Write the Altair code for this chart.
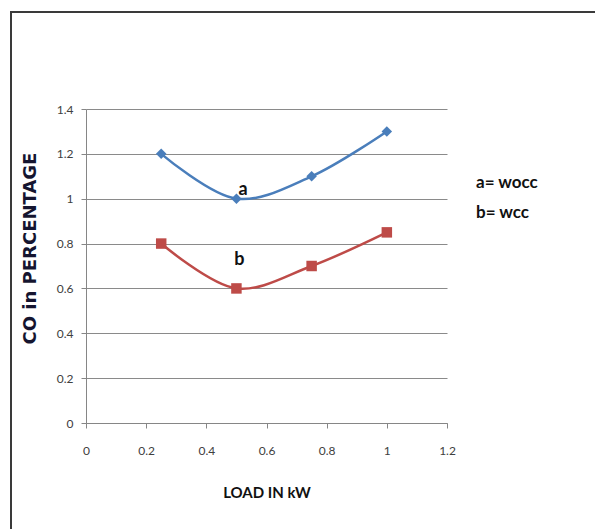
import altair as alt
import pandas as pd

# ---- data ----
load_kw = [0.25, 0.5, 0.75, 1.0]
co_wocc = [1.2, 1.0, 1.1, 1.3]     # series a
co_wcc = [0.8, 0.6, 0.7, 0.85]     # series b
series_keys = ["a", "b"]
series_names = ["a= wocc", "b= wcc"]
x_ticks = [0, 0.2, 0.4, 0.6, 0.8, 1.0, 1.2]
y_ticks = [0, 0.2, 0.4, 0.6, 0.8, 1.0, 1.2, 1.4]
label_pos_x = [0.522, 0.51]
label_pos_y = [1.04, 0.725]

BLUE = "#4A7EBB"
RED = "#BE4B48"

df = pd.DataFrame({
    "load": load_kw * 2,
    "co": co_wocc + co_wcc,
    "series": ["a"] * len(load_kw) + ["b"] * len(load_kw),
})
lab = pd.DataFrame({"x": label_pos_x, "y": label_pos_y, "t": series_keys})
one = pd.DataFrame({"k": [0]})

xs = alt.Scale(domain=[0, 1.2], nice=False, zero=False)
ys = alt.Scale(domain=[0, 1.4], nice=False)
color = alt.Color("series:N", scale=alt.Scale(domain=series_keys, range=[BLUE, RED]), legend=None)
shape = alt.Shape("series:N", scale=alt.Scale(domain=series_keys, range=["diamond", "square"]), legend=None)

x_enc = alt.X("load:Q", scale=xs, axis=alt.Axis(
    values=x_ticks, format="~g", grid=False, title="LOAD IN kW",
    titleFont="Lato", titleFontSize=15, titleFontWeight="bold", titleColor="#111111",
    titleY=69, titleBaseline="middle",
    labelFont="Lato", labelFontSize=12, labelColor="#404040", labelPadding=17,
    tickSize=5, tickColor="#868686", domainColor="#868686", labelFlush=False))
y_enc = alt.Y("co:Q", scale=ys, axis=alt.Axis(
    values=y_ticks, format="~g", grid=True, gridColor="#8a8a8a", title="CO in PERCENTAGE",
    titleFont="DejaVu Sans", titleFontSize=18, titleFontWeight="bold", titleColor="#151530",
    titleX=-56, titleY=139, titleBaseline="middle", titleAngle=270,
    labelFont="Lato", labelFontSize=12, labelColor="#404040", labelPadding=8,
    tickSize=5, tickColor="#868686", domainColor="#868686"))

base = alt.Chart(df)
lines = base.mark_line(interpolate="catmull-rom", strokeWidth=2.5).encode(
    x=x_enc, y=y_enc, color=color, detail="series:N")
points = base.mark_point(filled=True, opacity=1, size=110).encode(
    x=alt.X("load:Q", scale=xs), y=alt.Y("co:Q", scale=ys), color=color, shape=shape)

labels = alt.Chart(lab).mark_text(font="Lato", fontSize=18, fontWeight="bold",
                                  color="#111111", baseline="middle").encode(
    x=alt.X("x:Q", scale=xs), y=alt.Y("y:Q", scale=ys), text="t:N")

legend_a = alt.Chart(one).mark_text(text=series_names[0], font="Lato", fontSize=17, fontWeight="bold",
                                    color="#111111", align="left", baseline="middle").encode(
    x=alt.value(390), y=alt.value(74))
legend_b = alt.Chart(one).mark_text(text=series_names[1], font="Lato", fontSize=17, fontWeight="bold",
                                    color="#111111", align="left", baseline="middle").encode(
    x=alt.value(390), y=alt.value(104))

frame_left = alt.Chart(one).mark_rule(color="#3a3a3a", strokeWidth=2).encode(
    x=alt.value(-75), y=alt.value(-97), y2=alt.value(440))
frame_top = alt.Chart(one).mark_rule(color="#3a3a3a", strokeWidth=2).encode(
    x=alt.value(-76), x2=alt.value(520), y=alt.value(-97))

chart = alt.layer(lines, points, labels, legend_a, legend_b, frame_left, frame_top).properties(
    width=361, height=314,
    autosize=alt.AutoSizeParams(type="none"),
    padding={"left": 86, "top": 109, "right": 148, "bottom": 106},
    background="white",
).configure_view(stroke=None)

chart.save("out.html", embed_options={"renderer": "svg", "actions": False})
